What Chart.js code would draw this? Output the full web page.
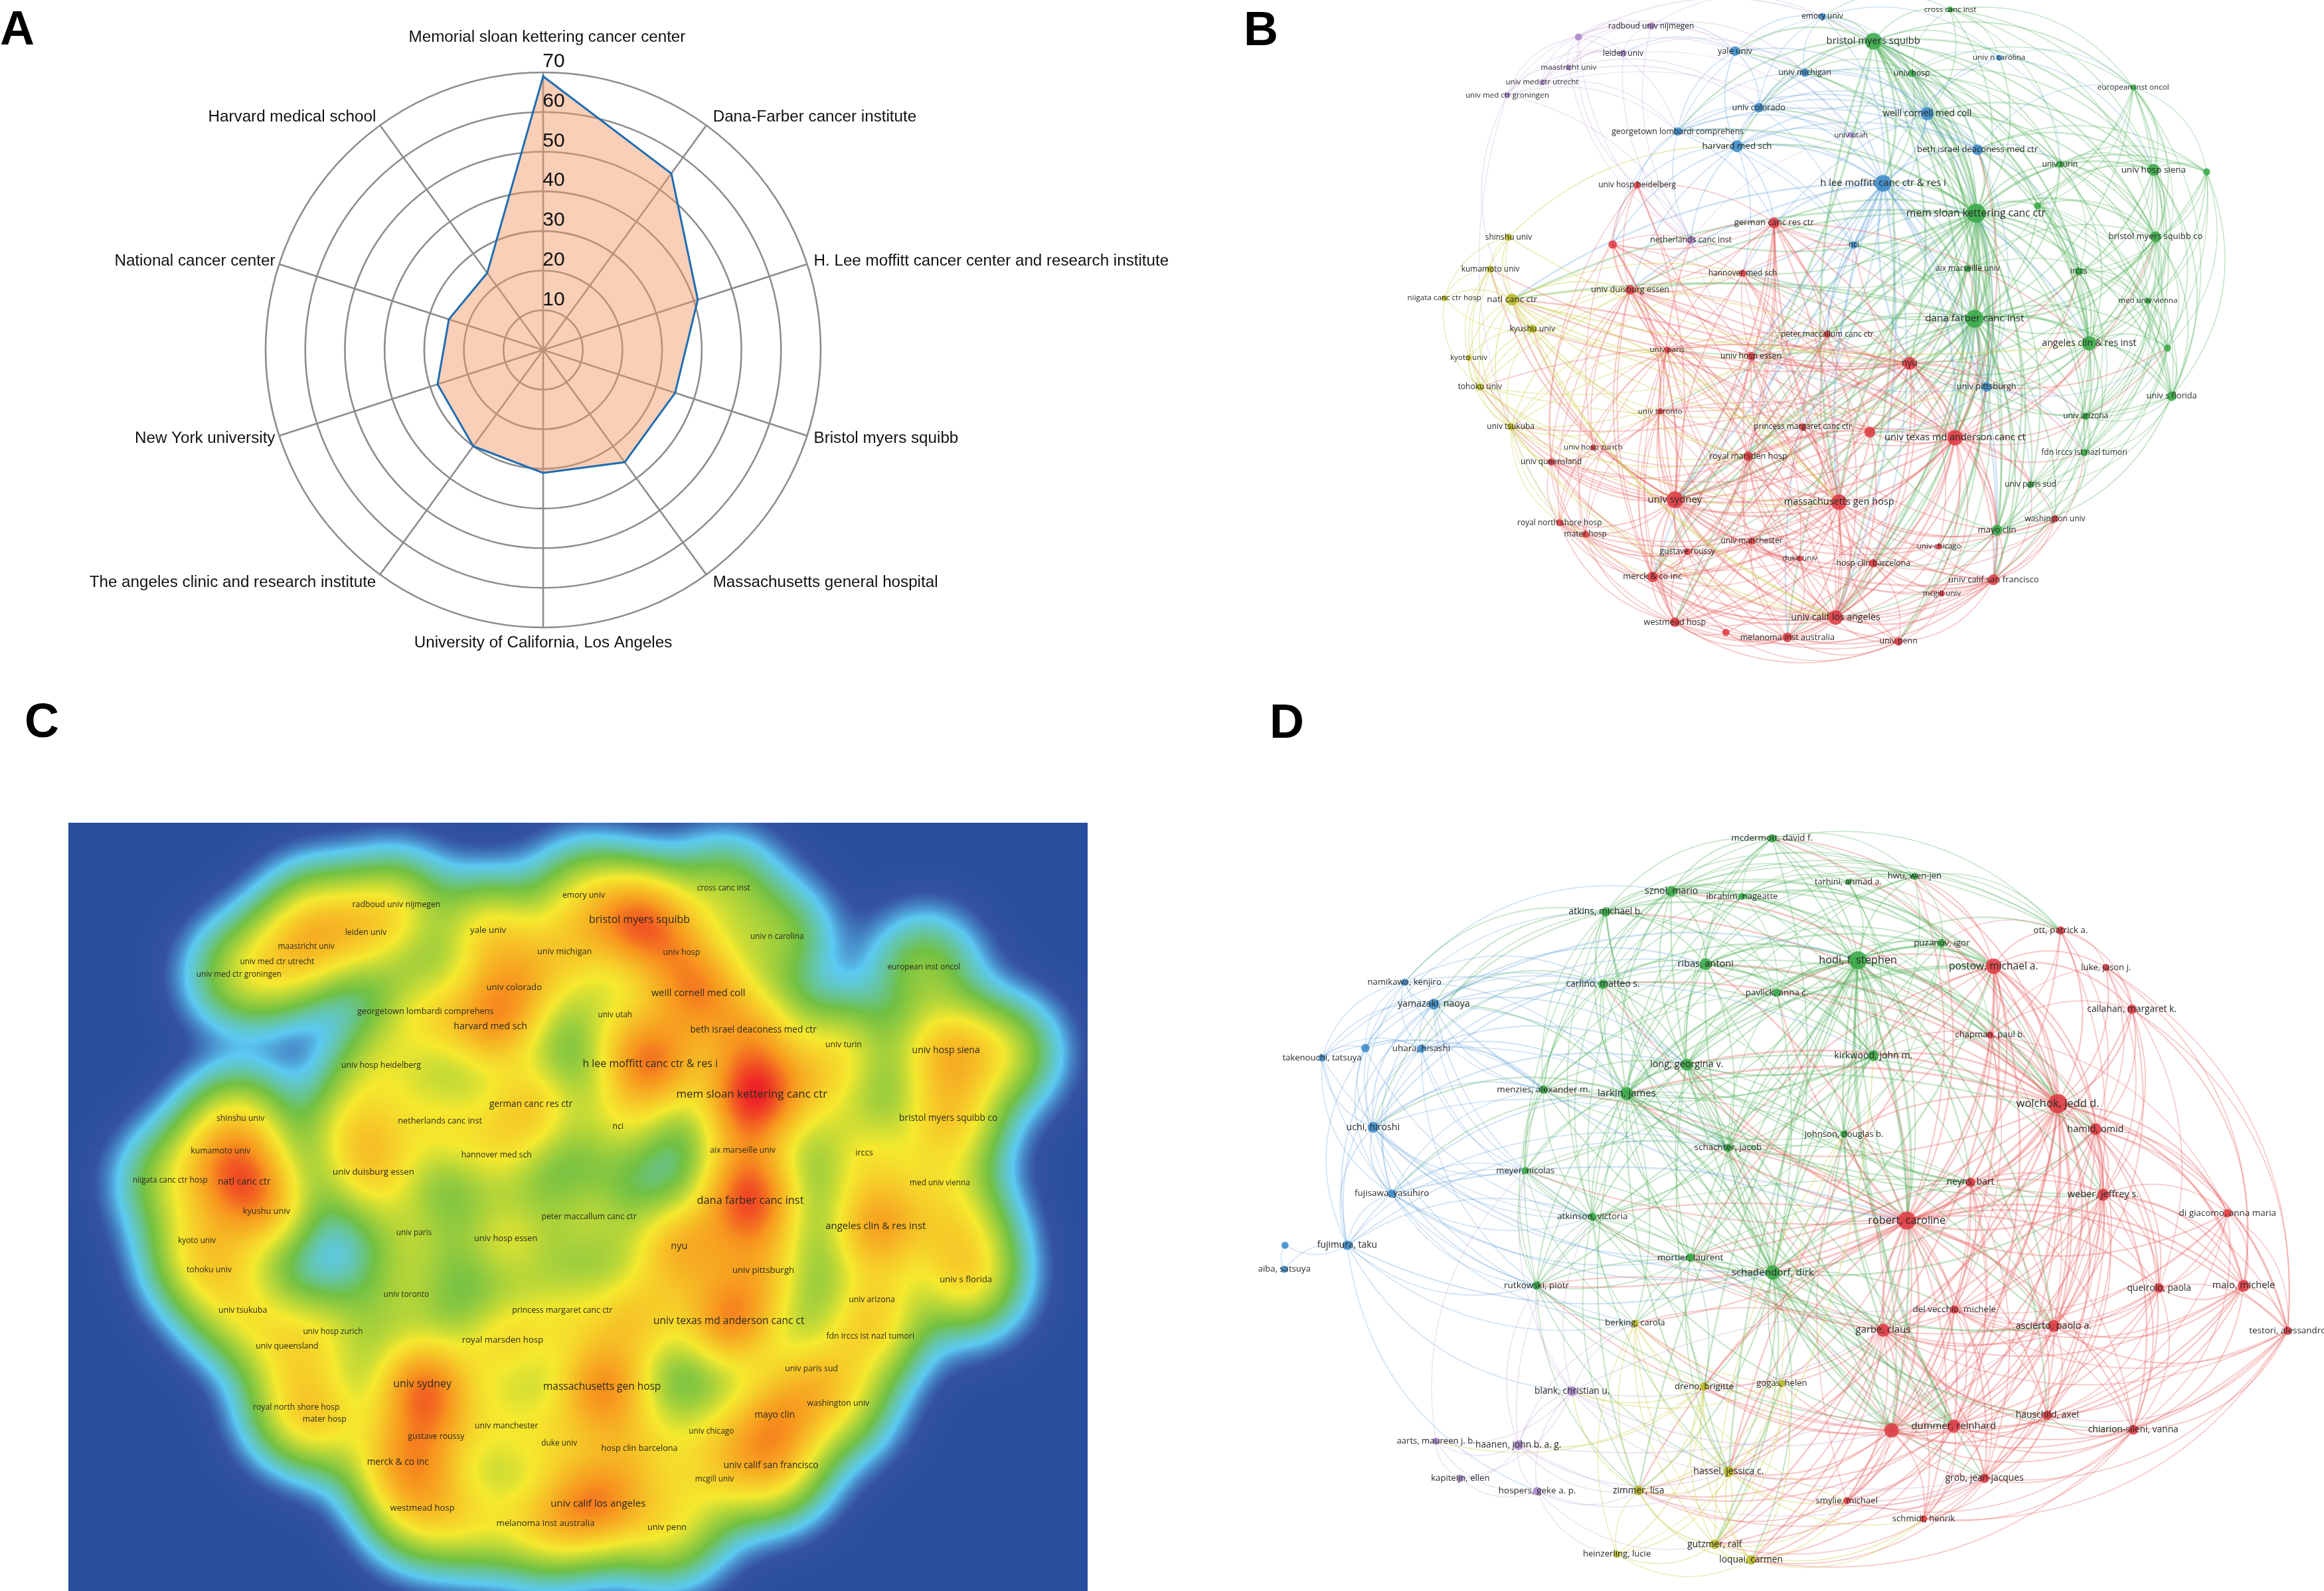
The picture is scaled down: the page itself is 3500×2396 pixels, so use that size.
<!DOCTYPE html>
<html><head><meta charset="utf-8">
<script src="https://cdn.jsdelivr.net/npm/chart.js@4"></script>
<style>
html,body{margin:0;padding:0;background:#fff}
#page{position:relative;width:3500px;height:2396px;overflow:hidden;background:#fff}
canvas{position:absolute;display:block}
.tag{position:absolute;font:bold 72px/72px "Liberation Sans",Arial,sans-serif;color:#000}
</style></head><body><div id="page">
<canvas id="a" width="1850" height="1020" style="left:0;top:0"></canvas>
<canvas id="b" width="1650" height="1020" style="left:1850px;top:0"></canvas>
<canvas id="c" width="1535" height="1157" style="left:103px;top:1239px"></canvas>
<canvas id="d" width="1650" height="1176" style="left:1850px;top:1220px"></canvas>
<div class="tag" style="left:0;top:6px">A</div>
<div class="tag" style="left:1873px;top:7px">B</div>
<div class="tag" style="left:37px;top:1049px">C</div>
<div class="tag" style="left:1912px;top:1050px">D</div>
</div>
<script>
// ---------- Panel A
const radarLabels=["Memorial sloan kettering cancer center","Dana-Farber cancer institute","H. Lee moffitt cancer center and research institute","Bristol myers squibb","Massachusetts general hospital","University of California, Los Angeles","The angeles clinic and research institute","New York university","National cancer center","Harvard medical school"];
const radarValues=[69,55,41,35,35,31,30,28,25,24];
const radarMax=70;
const radarStep=10;

// ---------- Panels B and C share one institution map
const instNames=["cross canc inst","emory univ","radboud univ nijmegen","","bristol myers squibb","leiden univ","yale univ","univ n carolina","maastricht univ","univ michigan","univ hosp","univ med ctr utrecht","univ med ctr groningen","european inst oncol","univ colorado","weill cornell med coll","georgetown lombardi comprehens","univ utah","harvard med sch","beth israel deaconess med ctr","univ turin","univ hosp siena","","univ hosp heidelberg","h lee moffitt canc ctr & res i","","mem sloan kettering canc ctr","german canc res ctr","shinshu univ","bristol myers squibb co","netherlands canc inst","","nci","kumamoto univ","aix marseille univ","irccs","hannover med sch","univ duisburg essen","niigata canc ctr hosp","natl canc ctr","med univ vienna","kyushu univ","dana farber canc inst","peter maccallum canc ctr","angeles clin & res inst","","univ paris","univ hosp essen","kyoto univ","nyu","tohoku univ","univ pittsburgh","univ s florida","univ toronto","univ arizona","univ tsukuba","princess margaret canc ctr","","univ texas md anderson canc ct","univ hosp zurich","fdn irccs ist nazl tumori","royal marsden hosp","univ queensland","univ paris sud","univ sydney","massachusetts gen hosp","washington univ","royal north shore hosp","mayo clin","mater hosp","univ manchester","univ chicago","gustave roussy","duke univ","hosp clin barcelona","merck & co inc","univ calif san francisco","mcgill univ","univ calif los angeles","westmead hosp","","melanoma inst australia","univ penn"];
const instX=[1033,850,605,501,923,565,725,1103,487,825,978,449,399,1295,759,1000,643,891,728,1072,1190,1324,1400,585,937,1158,1070,781,401,1327,662,550,895,375,1058,1217,736,575,309,406,1316,435,1068,857,1232,1344,628,748,344,975,360,1085,1350,618,1227,404,822,918,1040,522,1225,744,462,1148,639,874,1183,474,1100,511,749,1017,657,818,923,607,1095,1021,869,639,712,800,959];
const instY=[43,75,118,168,187,242,232,262,307,330,333,374,432,397,489,516,597,613,664,680,745,771,780,840,832,934,968,1012,1077,1075,1089,1110,1112,1222,1220,1232,1240,1316,1354,1360,1366,1493,1447,1517,1559,1580,1589,1617,1625,1650,1757,1757,1799,1867,1890,1937,1938,1962,1987,2032,2055,2072,2097,2200,2269,2280,2355,2373,2407,2426,2457,2481,2504,2535,2557,2619,2632,2695,2804,2825,2871,2894,2912];
const instSize=[5,6,6,6,14,6,8,5,5,7,6,5,5,5,8,11,7,5,10,9,6,10,6,6,14,6,16,9,6,9,7,7,6,6,6,7,6,8,5,10,5,7,15,6,12,6,5,7,5,11,6,8,8,5,6,6,6,9,13,5,6,8,6,6,14,13,6,6,9,6,6,5,6,5,7,9,9,5,12,8,6,8,7];
const instGroup=["g","b","p","p","g","p","b","b","p","b","g","p","p","g","b","b","b","p","b","b","g","g","g","r","b","g","g","r","y","g","p","r","b","y","g","g","r","r","y","y","g","y","g","r","g","g","r","r","y","r","y","b","g","r","g","y","r","r","r","r","g","r","r","g","r","r","r","r","g","r","r","r","r","r","r","r","r","r","r","r","r","r","r"];
const instLinks=[
[26,[0,1,4,6,7,9,10,13,14,15,16,18,19,20,21,22,24,25,27,29,30,32,34,35,36,37,39,40,42,43,44,45,47,49,51,52,54,56,57,58,60,61,63,64,65,68,70,71,74,75,76,78,79,81,82]],
[42,[4,10,13,15,19,20,21,22,24,25,27,29,32,34,35,36,37,39,40,43,44,45,46,47,49,51,52,53,54,56,57,58,60,61,63,64,65,66,68,70,71,72,74,75,76,77,78,79,81,82]],
[4,[0,1,6,7,9,10,13,14,15,16,18,19,20,21,24,29,34,35,44,49,51,52,58,64,65,68,76,78]],
[24,[1,6,7,9,14,15,16,18,19,27,32,34,36,37,39,43,44,49,51,56,58,61,64,65,68,74,75,76,78,81]],
[58,[19,27,29,32,34,35,36,37,39,43,44,45,46,47,49,51,53,54,56,57,60,61,62,63,64,65,66,68,70,71,74,75,76,77,78,79,81,82]],
[64,[23,27,30,31,33,36,37,39,41,43,46,47,49,53,55,56,57,59,61,62,65,67,69,70,72,73,74,75,76,78,79,80,81,82,71,50,48,35]],
[65,[23,27,31,36,37,43,46,47,49,53,56,57,59,61,62,67,69,70,71,72,73,74,75,76,77,78,79,80,81,82,66,68]],
[78,[27,37,43,46,47,49,51,56,57,61,62,67,69,70,71,72,73,74,75,76,77,79,80,81,82,66,68,53]],
[44,[20,21,22,25,29,34,35,40,45,49,51,52,54,60,63,68,76,19,15,10,13,57]],
[29,[13,19,20,21,22,25,34,35,40,45,49,51,52,54,60,63,10,15]],
[21,[13,19,20,22,25,35,40,45,52,54,60,15,10,0]],
[52,[13,20,22,25,35,40,45,54,60,63,49,51,68]],
[15,[1,6,9,10,14,16,17,18,19,7,32,51,36]],
[19,[9,10,14,16,17,18,20,32,51,13,35]],
[18,[6,9,14,16,17,23,27,30,31,32,37,36]],
[16,[1,6,9,14,17,23,30,32,31,27]],
[14,[1,6,9,10,17,32]],
[6,[1,9,2,5]],
[49,[27,31,34,36,37,39,43,46,47,51,53,56,57,61,71,74,76,33,41,50,55,44,45,54,60,63,65,78,68,58]],
[27,[23,30,31,36,37,43,46,47,56,57,61,75,79,32,44,51,65,78,42]],
[37,[23,30,31,36,43,46,47,53,56,57,59,61,62,67,69,75,79]],
[31,[23,30,36,43,46,47,53]],
[75,[67,69,72,79,80,81,82,70,73,76,46,61,57]],
[79,[67,69,72,80,81,82,73,74,76,70]],
[81,[80,82,76,74,73,77,70,72]],
[82,[80,76,74,77]],
[76,[66,68,71,73,74,77,60,63,70]],
[68,[60,63,66,71,74,54,45,57]],
[67,[69,59,62,72,70,73]],
[69,[59,62,72,70]],
[61,[46,47,53,56,57,59,62,70,72,73,74,75,76,78,79,81,82]],
[57,[46,47,53,56,43]],
[39,[28,33,38,41,48,50,55,36,37,43,47,46,53,56,61,64,44,42,26,58,65,78]],
[41,[28,33,38,48,50,55,37,49,64,65,78,61]],
[33,[28,38,50,55,48]],
[28,[38,50,18,49]],
[55,[48,50,62,69,67,64,65,78,75,37,61,36,43,47,46,53]],
[50,[48,38,49,51,37,64,65,36,61,78,43]],
[2,[3,5,8,11,12,1,6,9,17,30]],
[3,[5,8,11,12,4,6,30,23,16]],
[5,[8,11,12,6,9,17,30]],
[8,[11,12,14,30]],
[11,[12,6,14,16]],
[12,[16,30,17,39,67]],
[30,[17,32,36,31,23,47,16]],
[0,[10,13,7,15,1,4,26,21,29,20]],[1,[9,6,7,10]],[13,[10,19,20,26]],
[10,[15,19,20,21,35,9,14,17,24,44,51]],
[35,[20,22,25,40,45,54,60,63,51]],
[51,[34,45,54,60,63,57,32,47,24,19,15,26,36,43]],
[34,[36,43,47,56,32,57,25]],
[43,[36,46,47,53,56,57,61]],
[47,[46,53,56,74,73]],
[56,[53,61,70,72,34,36,75,78,79,68,76]],
[70,[72,73,74]],
[36,[27,30,32,43,47,46,56,58,64,65,78]],
[32,[36,43,47,56]],
[74,[46,53,71,73,77,66,68]],
[53,[46,47,59,62,67,69,72,75,79]],
[46,[59,62,67,69,72,73,79]],
[62,[23,31,59,72,79]],
[23,[31,36,27,30,59]],
[48,[39,41,50,64]],
[54,[45,60,63,66,40,25,22,13]],
[60,[45,63,66,40,13,76]],
[63,[66,45,76,78,58]],
[66,[58,64,74,77,71]],
[40,[45,25,22,20,13,34]],
[25,[20,22,45,15,19,34,13]],
[20,[22,45,13,15,9]],
[22,[13,45,19]],
[7,[10,20,21,13]],
[9,[18]]
];

// ---------- Panel D: author map
const authNames=["mcdermott, david f.","tarhini, ahmad a.","hwu, wen-jen","sznol, mario","ibrahim, nageatte","atkins, michael b.","ott, patrick a.","puzanov, igor","hodi, f. stephen","ribas, antoni","postow, michael a.","luke, jason j.","carlino, matteo s.","namikawa, kenjiro","pavlick, anna c.","yamazaki, naoya","callahan, margaret k.","chapman, paul b.","","uhara, hisashi","takenouchi, tatsuya","kirkwood, john m.","long, georgina v.","menzies, alexander m.","larkin, james","wolchok, jedd d.","hamid, omid","uchi, hiroshi","johnson, douglas b.","schachter, jacob","meyer, nicolas","neyns, bart","fujisawa, yasuhiro","weber, jeffrey s.","di giacomo, anna maria","atkinson, victoria","robert, caroline","fujimura, taku","","mortier, laurent","aiba, satsuya","schadendorf, dirk","rutkowski, piotr","maio, michele","queirolo, paola","del vecchio, michele","ascierto, paolo a.","garbe, claus","berking, carola","testori, alessandro","blank, christian u.","dreno, brigitte","gogas, helen","hauschild, axel","","dummer, reinhard","chiarion-sileni, vanna","aarts, maureen j. b.","haanen, john b. a. g.","hassel, jessica c.","kapiteijn, ellen","grob, jean-jacques","hospers, geke a. p.","zimmer, lisa","smylie, michael","schmidt, henrik","gutzmer, ralf","heinzerling, lucie","loquai, carmen"];
const authX=[778,887,982,634,735,540,1191,1021,901,683,1095,1256,536,252,785,294,1293,1090,196,276,134,923,656,451,570,1187,1241,207,881,715,425,1062,234,1252,1430,521,971,170,81,661,80,779,441,1453,1332,1039,1181,937,582,1516,492,681,792,1172,949,1038,1295,297,415,716,332,1082,442,587,885,995,696,556,748];
const authY=[113,287,265,325,345,408,482,532,601,617,625,630,697,689,731,777,797,900,953,955,992,983,1019,1119,1135,1175,1277,1270,1297,1352,1443,1490,1535,1540,1613,1628,1643,1742,1742,1791,1838,1851,1903,1904,1913,1999,2065,2082,2054,2084,2326,2307,2295,2423,2483,2466,2481,2526,2542,2648,2675,2675,2726,2724,2764,2837,2939,2979,3002];
const authSize=[7,5,6,9,6,8,7,7,15,10,13,6,8,6,7,9,8,6,7,7,6,9,10,7,11,16,10,9,6,7,6,8,7,10,7,7,15,8,6,7,6,12,7,10,8,7,10,11,6,7,8,7,6,8,12,11,8,6,8,9,6,8,7,8,6,6,8,6,8];
const authGroup=["g","g","g","g","g","g","r","g","g","g","r","r","g","b","g","b","r","r","b","b","b","g","g","g","g","r","r","b","g","g","g","r","b","r","r","g","r","b","b","g","b","g","g","r","r","r","r","r","y","r","p","y","y","r","r","r","r","p","p","y","p","r","p","y","r","r","y","y","y"];
const authLinks=[
[8,[0,1,2,3,4,5,6,7,9,10,12,14,17,21,22,23,24,25,26,28,29,30,31,33,35,36,39,41,42,45,46,47,48,51,53,54,55,59,61,63,66]],
[25,[0,2,3,5,6,7,9,10,11,12,14,16,17,21,22,24,26,28,29,31,33,34,36,39,41,43,44,45,46,47,49,53,54,55,56,59,61,64,65]],
[36,[2,6,7,9,10,12,14,16,17,21,22,23,24,26,28,29,30,31,33,34,35,39,41,42,43,44,45,46,47,48,49,51,52,53,54,55,56,59,61,63,64,65,66,68]],
[41,[0,3,5,7,9,10,12,14,21,22,23,24,26,28,29,30,31,33,35,39,42,45,46,47,48,51,52,53,54,55,56,59,61,63,66,68]],
[24,[0,2,3,4,5,7,9,10,12,14,21,22,23,26,28,29,30,31,33,35,39,42,46,47,48,54,55,59,61,63,27,15,32]],
[22,[0,2,3,4,5,7,9,10,12,14,21,23,26,28,29,30,31,33,35,39,42,46,47,54,55,59]],
[9,[0,1,2,3,4,5,7,10,12,14,17,21,23,26,28,29,33,35]],
[10,[0,1,2,6,7,11,14,16,17,21,26,28,29,31,33,39,46,47,54,55,59]],
[47,[26,28,29,31,33,34,35,39,42,43,44,45,46,48,49,51,52,53,54,55,56,59,61,63,64,65,66,68]],
[54,[26,31,33,39,42,43,44,45,46,48,49,51,52,53,55,56,59,61,63,64,65,66,68]],
[55,[26,31,33,43,44,45,46,48,49,51,53,56,59,61,63,64,65,66,68]],
[46,[6,16,26,31,33,34,43,44,45,49,53,56,61,64]],
[33,[16,26,31,34,43,44,45,49,53,56,61,11]],
[26,[6,11,16,17,31,34,43,44,45,49,53,56,61]],
[43,[34,44,49,45,53,56,16]],
[44,[34,49,45,53,56]],
[49,[34,53,56,61,16,65]],
[56,[34,53,61,64,65,68]],
[61,[53,64,65,66,68,59,63]],
[21,[0,1,2,3,5,7,12,14,23,28,29,31,35,42]],
[3,[0,1,2,4,5,7,12,14,23,30,35,10,6,17,21]],
[5,[0,2,4,12,14,23,13,15,19,27,6,10,29,35,42,21]],
[0,[1,2,4,6,7,12,10,25,36,8]],
[2,[1,4,7,6,12,14]],
[4,[1,7,12,14,10,21,6,25]],
[12,[14,23,29,35,30,39,15,19,21,28,36,41,22]],
[6,[11,16,7,17]],[16,[11]],
[15,[13,18,19,20,27,32,37,12,23,5,30,35,24,22,9,21,29,8,36]],
[13,[18,19,20,27,32,5,3,12,23,24,22]],
[18,[19,20,27,32,37,5,12,23,35]],
[19,[20,27,32,37,23,30,35,42,5,12,24,22,29,9]],
[20,[27,32,18,12,23,35,42,15]],
[27,[32,37,23,30,35,39,42,29,41,48,24,22,9,12]],
[32,[37,23,30,35,42,39,41,24,29,36,48]],
[37,[38,40,42,35,41,48,24,29,50,62,30]],
[38,[40]],
[23,[29,30,35,39,42,31,28,21,14,36,41]],
[29,[30,35,39,42,28,21,31,47,54,55,41,36,17]],
[35,[30,39,42,48,31,47,54,55,41,36,51,59,63]],
[39,[30,42,47,54,55,31,46,48,51,59]],
[42,[48,30,47,54,55,41,51,59,63]],
[59,[48,51,52,63,64,66,67,68,65]],
[63,[48,51,52,66,67,68,50]],
[66,[48,51,52,67,68,64,65,28,21]],
[68,[48,51,52,67,64,65,61]],
[67,[48,51,52]],
[51,[48,50,52,57,58]],
[52,[48,50,28]],
[50,[48,57,58,60,62,35,42,63,47,54,59,61,46,30]],
[58,[57,60,62,48,61,46,50,63,59,42,35]],
[57,[60,62,30]],
[60,[62,58]],
[62,[63,59,66,67,50]],
[14,[21,7,17,28,29,22,24,12,36,41]],
[7,[14,21,17,28,29,36,41,2,6]],
[28,[29,39,31,47,54,55,17,21,46]],
[30,[41,47,54,48,36]],
[31,[17,45,46,47,53,54,55,56,61,64,65,43,44]],
[45,[34,53,61,54,55,56,64,49]],
[17,[21,26,31,33,34,16,6,11,45,46]],
[53,[34,43,44,64,65,49]],
[64,[59,63,66,28]],
[65,[59,66,68]],
[48,[52,59,63,64,35,42]],
[1,[6,7,10,25,36]],
[11,[17,33,26,43,44,49]]
];

const nodeColor={r:"rgba(222,60,68,.88)",g:"rgba(58,170,72,.88)",b:"rgba(62,140,202,.88)",y:"rgba(186,186,40,.88)",p:"rgba(168,136,200,.88)"};
const linkColor={r:"rgba(232,90,92,.33)",g:"rgba(88,178,96,.34)",b:"rgba(88,156,214,.28)",y:"rgba(205,208,80,.40)",p:"rgba(186,152,208,.26)"};
const heatStops=[[0,[42,79,158]],[.02,[52,82,162]],[.075,[92,201,242]],[.2,[112,192,68]],[.42,[245,233,46]],[.74,[247,148,30]],[1,[236,32,39]]];

Chart.defaults.animation=false;
Chart.defaults.responsive=false;
Chart.defaults.devicePixelRatio=1;
Chart.defaults.plugins.legend.display=false;
Chart.defaults.plugins.tooltip.enabled=false;

// ---------- radar
new Chart(document.getElementById("a"),{
  type:"radar",
  data:{labels:radarLabels,datasets:[{data:radarValues,backgroundColor:"rgba(241,150,100,.46)",borderColor:"#1f6db2",borderWidth:3,pointRadius:0,tension:0}]},
  options:{
    layout:{padding:{left:400,right:614,top:109,bottom:75},autoPadding:false},
    scales:{r:{min:0,max:radarMax,ticks:{stepSize:radarStep,display:false},
      grid:{circular:true,color:"#8c8c8c",lineWidth:2.6},
      angleLines:{color:"#8c8c8c",lineWidth:2.6},
      pointLabels:{display:false}}}
  },
  plugins:[{id:"radarText",afterDraw(chart){
    const s=chart.scales.r,ctx=chart.ctx;
    ctx.save();
    ctx.fillStyle="#111";
    ctx.font='30px "Liberation Sans",Arial,sans-serif';
    ctx.textAlign="center";ctx.textBaseline="middle";
    s.ticks.forEach(t=>{ if(t.value>0) ctx.fillText(String(t.value),s.xCenter+16,s.yCenter-s.getDistanceFromCenterForValue(t.value)-16); });
    ctx.font='24.2px "Liberation Sans",Arial,sans-serif';
    const n=radarLabels.length;
    radarLabels.forEach((lab,i)=>{
      const p=s.getPointPosition(i,s.drawingArea),th=i*2*Math.PI/n;
      if(i===0){ctx.textAlign="center";ctx.fillText(lab,p.x+6,p.y-53);return;}
      if(i===n/2){ctx.textAlign="center";ctx.fillText(lab,p.x,p.y+23);return;}
      const right=i<n/2;
      ctx.textAlign=right?"left":"right";
      ctx.fillText(lab,p.x+(right?10:-6),p.y-Math.cos(th)*15);
    });
    ctx.restore();
  }}]
});

// ---------- network helper
function networkChart(id,names,xs,ys,sizes,groups,links,xRange,yRange,o){
  const points=xs.map((x,i)=>({x:x,y:ys[i]}));
  const plugins=[];
  if(o.heat) plugins.push({id:"heat",beforeDatasetsDraw(chart){
    const a=chart.chartArea,sx=chart.scales.x,sy=chart.scales.y,step=3;
    const W=Math.ceil((a.right-a.left)/step),H=Math.ceil((a.bottom-a.top)/step);
    const field=new Float32Array(W*H);
    const px=xs.map(v=>sx.getPixelForValue(v)),py=ys.map(v=>sy.getPixelForValue(v));
    const sig=o.sigma,R=sig*3.4;
    let max=0;
    px.forEach((cx,k)=>{
      const w=Math.pow(sizes[k],o.power);
      const x0=Math.max(0,Math.floor((cx-R-a.left)/step)),x1=Math.min(W-1,Math.ceil((cx+R-a.left)/step));
      const y0=Math.max(0,Math.floor((py[k]-R-a.top)/step)),y1=Math.min(H-1,Math.ceil((py[k]+R-a.top)/step));
      for(let j=y0;j<=y1;j++)for(let i=x0;i<=x1;i++){
        const dx=a.left+i*step-cx,dy=a.top+j*step-py[k];
        field[j*W+i]+=w*Math.exp(-(dx*dx+dy*dy)/(2*sig*sig));
      }
    });
    for(let i=0;i<field.length;i++) if(field[i]>max) max=field[i];
    const off=document.createElement("canvas");off.width=W;off.height=H;
    const octx=off.getContext("2d"),img=octx.createImageData(W,H);
    for(let i=0;i<field.length;i++){
      const v=Math.pow(field[i]/max,o.gamma);
      let m=0;while(m<heatStops.length-2&&v>heatStops[m+1][0])m++;
      const A=heatStops[m],B=heatStops[m+1],t=Math.min(1,(v-A[0])/(B[0]-A[0]));
      for(let c=0;c<3;c++) img.data[i*4+c]=A[1][c]+(B[1][c]-A[1][c])*t;
      img.data[i*4+3]=255;
    }
    octx.putImageData(img,0,0);
    chart.ctx.save();chart.ctx.imageSmoothingEnabled=true;chart.ctx.imageSmoothingQuality="high";
    chart.ctx.drawImage(off,a.left,a.top,W*step,H*step);chart.ctx.restore();
  }});
  if(links) plugins.push({id:"links",beforeDatasetsDraw(chart){
    const sx=chart.scales.x,sy=chart.scales.y,ctx=chart.ctx,a=chart.chartArea;
    const cx=(a.left+a.right)/2,cy=(a.top+a.bottom)/2,half=Math.min(a.right-a.left,a.bottom-a.top)/2,seen=new Set();
    ctx.save();ctx.lineCap="round";
    links.forEach(([s,ts])=>ts.forEach(t=>{
      const key=Math.min(s,t)+"-"+Math.max(s,t);
      if(seen.has(key)||s===t)return;seen.add(key);
      const x1=sx.getPixelForValue(xs[s]),y1=sy.getPixelForValue(ys[s]),x2=sx.getPixelForValue(xs[t]),y2=sy.getPixelForValue(ys[t]);
      const mx=(x1+x2)/2,my=(y1+y2)/2,dx=x2-x1,dy=y2-y1;
      const off=Math.hypot(mx-cx,my-cy)/half;
      let nx=-dy,ny=dx;
      const outward=nx*(mx-cx)+ny*(my-cy)>=0;
      const flip=off>.42?!outward:((s*7+t*3)%2===0);
      if(flip){nx=-nx;ny=-ny;}
      const bulge=.08+.22*Math.min(1,off);
      ctx.beginPath();ctx.moveTo(x1,y1);
      ctx.quadraticCurveTo(mx+nx*bulge,my+ny*bulge,x2,y2);
      ctx.strokeStyle=linkColor[groups[s]];
      ctx.lineWidth=1+sizes[s]*sizes[t]/80;
      ctx.stroke();
    }));
    ctx.restore();
  }});
  plugins.push({id:"names",afterDatasetsDraw(chart){
    const sx=chart.scales.x,sy=chart.scales.y,ctx=chart.ctx;
    ctx.save();ctx.textAlign="center";ctx.textBaseline="middle";ctx.fillStyle=o.textColor;
    names.forEach((n,i)=>{
      if(!n)return;
      ctx.font=(o.fontBase+o.fontScale*sizes[i])+'px "Open Sans",sans-serif';
      ctx.fillText(n,sx.getPixelForValue(xs[i]),sy.getPixelForValue(ys[i]));
    });
    ctx.restore();
  }});
  return new Chart(document.getElementById(id),{
    type:"scatter",
    data:{datasets:[{data:points,showLine:false,pointRadius:o.heat?0:sizes.map(r=>r*.9),pointBorderWidth:0,pointBackgroundColor:groups.map(g=>nodeColor[g]),clip:false}]},
    options:{layout:{padding:0,autoPadding:false},scales:{
      x:{type:"linear",display:false,min:xRange[0],max:xRange[1]},
      y:{type:"linear",display:false,min:yRange[0],max:yRange[1],reverse:true}}},
    plugins:plugins
  });
}
networkChart("b",instNames,instX,instY,instSize,instGroup,instLinks,[0,1568],[0,3075],{textColor:"#2a2a2a",fontBase:9.8,fontScale:.36});
networkChart("d",authNames,authX,authY,authSize,authGroup,authLinks,[0,1568],[0,3126],{textColor:"#2a2a2a",fontBase:11,fontScale:.35});
networkChart("c",instNames,instX,instY,instSize,instGroup,null,[175.9,1509.3],[-250,3196],{heat:true,sigma:53,power:1.1,gamma:1,textColor:"#2b2b20",fontBase:9.5,fontScale:.46});
</script></body></html>
